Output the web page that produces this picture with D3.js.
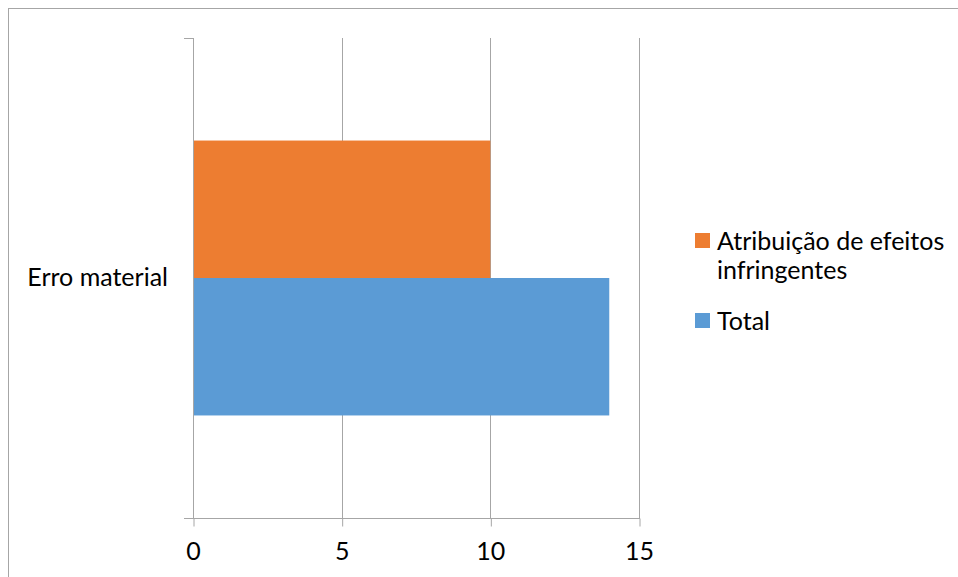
<!DOCTYPE html>
<html>
<head>
<meta charset="utf-8">
<script src="https://cdn.jsdelivr.net/npm/d3@7"></script>
<style>
  html, body { margin: 0; padding: 0; background: #fff; }
  svg { display: block; font-family: Lato, "Open Sans", sans-serif; }
</style>
</head>
<body>
<svg id="chart" width="958" height="577"></svg>
<script>
const categories = ["Erro material"];
const seriesNames = ["Atribuição de efeitos infringentes", "Total"];
const seriesValues = [[10], [14]];
const seriesColors = ["#ED7D31", "#5B9BD5"];
const xTicks = [0, 5, 10, 15];
const legendLines = [["Atribuição de efeitos", "infringentes"], ["Total"]];

const svg = d3.select("#chart");
const W = 958, H = 577;
const FS = 25;
const margin = { left: 193, right: 319, top: 38, bottom: 59 };
const plotR = W - margin.right, plotB = H - margin.bottom;

// outer border
svg.append("rect")
  .attr("x", 8.5).attr("y", 8.5)
  .attr("width", W + 10).attr("height", H + 10)
  .attr("fill", "none").attr("stroke", "#a6a6a6").attr("stroke-width", 1);

const x = d3.scaleLinear().domain([0, 15]).range([margin.left, plotR]);
const y = d3.scaleBand().domain(categories).range([margin.top, plotB])
  .paddingInner(0).paddingOuter(0.373);
const ySub = d3.scaleBand().domain(d3.range(seriesNames.length)).range([0, y.bandwidth()]);

const gridColor = "#a6a6a6";

// gridlines
svg.append("g").selectAll("line")
  .data(xTicks.filter(t => t !== 0))
  .join("line")
  .attr("x1", d => Math.round(x(d)) + 0.5).attr("x2", d => Math.round(x(d)) + 0.5)
  .attr("y1", margin.top).attr("y2", plotB)
  .attr("stroke", gridColor).attr("stroke-width", 1);

// bars
categories.forEach((c, ci) => {
  seriesNames.forEach((s, si) => {
    svg.append("rect")
      .attr("x", x(0))
      .attr("y", y(c) + ySub(si))
      .attr("width", x(seriesValues[si][ci]) - x(0))
      .attr("height", ySub.bandwidth())
      .attr("fill", seriesColors[si]);
  });
});

// bottom axis
const xAxis = d3.axisBottom(x).tickValues(xTicks).tickSize(8).tickSizeOuter(0).tickPadding(16);
const gx = svg.append("g").attr("transform", `translate(0,${plotB + 0.5})`).call(xAxis);
gx.select(".domain").remove();
gx.selectAll(".tick line").attr("stroke", gridColor)
  .attr("transform", "translate(0.5,0)");
gx.selectAll(".tick text").attr("font-size", FS).attr("font-family", "Lato").attr("fill", "#000");
svg.append("line")
  .attr("x1", x(0) - 9).attr("x2", x(15) + 1)
  .attr("y1", plotB + 0.5).attr("y2", plotB + 0.5)
  .attr("stroke", gridColor);

// left axis
const yAxis = d3.axisLeft(y).tickSize(0).tickPadding(25);
const gy = svg.append("g").attr("transform", `translate(${x(0)},0)`).call(yAxis);
gy.select(".domain").remove();
gy.selectAll(".tick text").attr("font-size", FS).attr("font-family", "Lato").attr("fill", "#000");
svg.append("line")
  .attr("x1", Math.round(x(0)) + 0.5).attr("x2", Math.round(x(0)) + 0.5)
  .attr("y1", margin.top).attr("y2", plotB)
  .attr("stroke", gridColor);
svg.append("line")
  .attr("x1", x(0) - 9).attr("x2", x(0))
  .attr("y1", margin.top + 0.5).attr("y2", margin.top + 0.5)
  .attr("stroke", gridColor);

// legend
const legendSq = [233, 313];
const legend = svg.append("g");
seriesNames.forEach((s, i) => {
  legend.append("rect")
    .attr("x", 695).attr("y", legendSq[i])
    .attr("width", 15).attr("height", 15)
    .attr("fill", seriesColors[i]);
  const t = legend.append("text")
    .attr("x", 717).attr("y", legendSq[i] + 17)
    .attr("font-size", FS).attr("font-family", "Lato").attr("fill", "#000");
  legendLines[i].forEach((ln, li) => {
    t.append("tspan").attr("x", 717).attr("dy", li === 0 ? 0 : 29).text(ln);
  });
});
</script>
</body>
</html>
